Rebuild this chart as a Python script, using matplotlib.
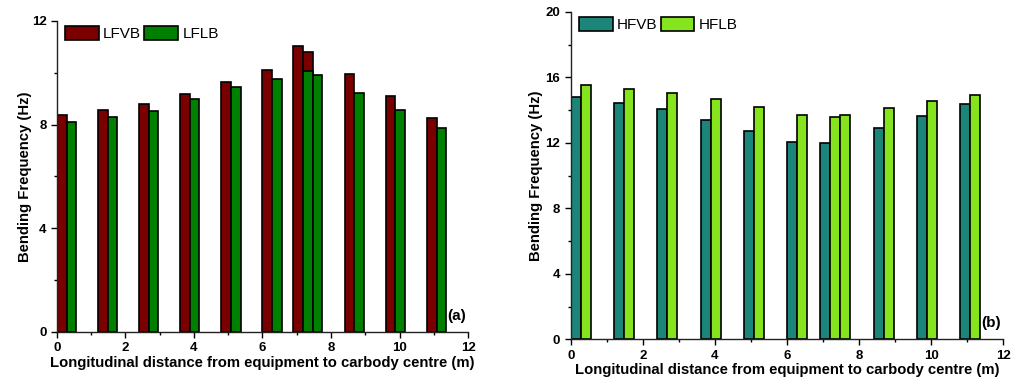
import numpy as np
import matplotlib
matplotlib.use('Agg')
import matplotlib.pyplot as plt
from matplotlib.ticker import MultipleLocator

plt.rcParams['font.family'] = ['Liberation Sans', 'DejaVu Sans']

# Longitudinal position of each equipment case (m)
positions = [0.0, 1.2, 2.4, 3.6, 4.8, 6.0, 6.9, 7.18, 8.4, 9.6, 10.8]

# (a) low frequency bending
lfvb = [8.36, 8.57, 8.80, 9.18, 9.65, 10.11, 11.05, 10.82, 9.97, 9.11, 8.24]
lflb = [8.09, 8.31, 8.54, 8.98, 9.44, 9.76, 10.08, 9.93, 9.20, 8.57, 7.86]

# (b) high frequency bending
hfvb = [14.77, 14.43, 14.04, 13.39, 12.70, 12.07, 11.98, 12.0, 12.90, 13.63, 14.36]
hflb = [15.56, 15.30, 15.02, 14.65, 14.16, 13.73, 13.59, 13.71, 14.14, 14.55, 14.91]

bar_w = 0.28


def draw_panel(ax, v1, v2, names, colors, ymax, tag, ylab_x):
    x = np.array(positions)
    ax.bar(x, v1, width=bar_w, align='edge', color=colors[0],
           edgecolor='black', linewidth=1.2, label=names[0])
    ax.bar(x + bar_w, v2, width=bar_w, align='edge', color=colors[1],
           edgecolor='black', linewidth=1.2, label=names[1])

    ax.set_xlim(0, 12)
    ax.set_ylim(0, ymax)
    ax.xaxis.set_major_locator(MultipleLocator(2))
    ax.xaxis.set_minor_locator(MultipleLocator(1))
    ax.yaxis.set_major_locator(MultipleLocator(4))
    ax.yaxis.set_minor_locator(MultipleLocator(2))
    ax.tick_params(which='major', direction='out', length=4.5, width=1,
                   labelsize=9.5, pad=3)
    ax.tick_params(which='minor', direction='out', length=2.5, width=1)
    for lab in ax.get_xticklabels() + ax.get_yticklabels():
        lab.set_fontweight('bold')

    for side in ['top', 'right']:
        ax.spines[side].set_visible(False)
    for side in ['left', 'bottom']:
        ax.spines[side].set_linewidth(1.0)
        ax.spines[side].set_color('#222222')

    ax.set_xlabel('Longitudinal distance from equipment to carbody centre (m)',
                  fontsize=10.7, fontweight='bold', labelpad=1)
    ax.set_ylabel('Bending Frequency (Hz)', fontsize=10.7, fontweight='bold')
    ax.yaxis.set_label_coords(ylab_x, 0.5)
    ax.text(0.995, 0.03, tag, transform=ax.transAxes, ha='right', va='bottom',
            fontsize=11, fontweight='bold')

    ax.legend(loc='upper left', ncol=2, frameon=False, fontsize=11,
              handlelength=2.2, handleheight=1.1, handletextpad=0.3,
              columnspacing=0.2, borderaxespad=0.0, borderpad=0.2,
              bbox_to_anchor=(0.012, 0.995))


fig = plt.figure(figsize=(10.21, 3.81), dpi=100)
ax1 = fig.add_axes([0.0558, 0.129, 0.4026, 0.816])
ax2 = fig.add_axes([0.559, 0.109, 0.4238, 0.86])

draw_panel(ax1, lfvb, lflb, ['LFVB', 'LFLB'], ['#7a0000', '#008000'], 12,
           '(a)', -0.061)
draw_panel(ax2, hfvb, hflb, ['HFVB', 'HFLB'], ['#1b857a', '#86e41e'], 20,
           '(b)', -0.064)

fig.savefig('out.png', dpi=100)
